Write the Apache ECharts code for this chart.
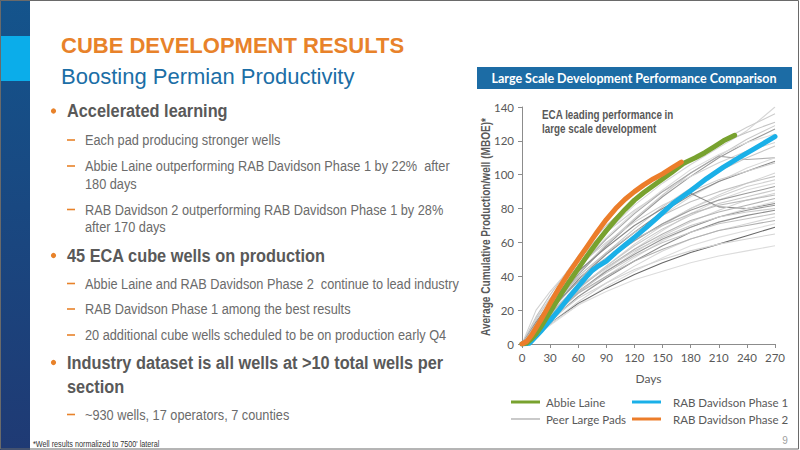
<!DOCTYPE html>
<html><head><meta charset="utf-8">
<script src="https://cdn.jsdelivr.net/npm/echarts@6/dist/echarts.min.js"></script>
<style>html,body{margin:0;padding:0;background:#fff}#c{width:800px;height:450px}</style>
</head><body><div id="c"></div>
<script>
// ---------- data ----------
const peerDays = [0, 15, 30, 60, 90, 120, 150, 180, 210, 240, 270];
const peerLargePads = [
  [0,12,24,46,66,82,95,106,116,126,140],
  [0,14,27,50,68,84,97,108,119,128,136],
  [0,16,29,52,70,85,98,109,118,125,131],
  [0,11,22,42,59,74,88,101,111,121,129],
  [0,10,21,41,58,73,87,99,110,119,127],
  [0,13,25,46,63,78,91,103,112,119,124],
  [0,20,31,50,66,79,90,99,107,114,119],
  [0,9,19,38,54,68,81,92,102,110,117],
  [0,12,24,45,62,77,90,101,111,109,110],
  [0,8,17,35,50,64,76,87,96,104,110],
  [0,10,20,38,53,66,78,88,96,102,108],
  [0,15,27,46,60,72,82,90,97,102,107],
  [0,7,16,32,46,59,70,80,88,95,101],
  [0,11,22,40,54,66,76,84,90,95,99],
  [0,9,18,35,49,61,71,80,87,93,97],
  [0,6,14,30,44,56,67,77,85,91,95],
  [0,10,20,37,50,61,71,79,85,89,93],
  [0,8,17,33,46,58,68,76,83,87,91],
  [0,13,24,43,57,70,80,89,81,80,83],
  [0,7,15,30,43,54,64,72,79,85,89],
  [0,12,22,39,51,62,70,77,82,85,88],
  [0,9,18,33,45,56,65,73,78,82,86],
  [0,6,13,28,40,51,61,69,75,80,84],
  [0,8,16,31,43,53,62,69,75,79,82],
  [0,10,19,34,45,55,63,70,75,78,80],
  [0,7,14,28,39,49,58,66,72,76,79],
  [0,9,17,31,42,52,60,66,71,74,77],
  [0,6,12,25,36,46,55,62,67,71,75],
  [0,8,16,30,40,49,56,62,67,70,73],
  [0,5,11,23,34,43,51,58,63,67,71],
  [0,6,12,24,33,41,48,54,59,64,69],
  [0,7,14,27,36,44,50,55,59,62,65],
  [0,6,12,23,31,38,43,48,52,55,58]
];
const abbieDays   = [0, 5, 10, 15, 20, 25, 30, 40, 50, 60, 70, 80, 90, 100, 110, 120, 130, 140, 150, 160, 172, 185, 195, 205, 215, 227];
const abbieValues = [0, 0.5, 3, 6, 10, 14.5, 19, 28, 36.5, 44.5, 52.5, 60, 67, 73.5, 79.5, 85, 89.5, 93.5, 97.5, 101.5, 106.6, 110, 113, 116.5, 120, 123.3];
const rab2Days    = [0, 5, 10, 15, 20, 25, 30, 40, 50, 60, 70, 80, 90, 100, 110, 120, 130, 140, 150, 160, 170];
const rab2Values  = [0, 1.5, 5, 9.5, 14, 19, 24, 33.5, 42, 50, 58, 66, 73.5, 80, 85.5, 90, 94, 97.5, 100.5, 104, 107.5];
const rab1Days    = [0, 8, 15, 20, 30, 40, 50, 60, 70, 75, 80, 90, 100, 110, 120, 133, 145, 161, 180, 197, 215, 233, 250, 270];
const rab1Values  = [0, 0.5, 4.5, 7.5, 14, 20.5, 27.5, 34, 40.5, 43.5, 45.5, 49, 54, 58.5, 63, 69, 75, 83, 90.5, 97.7, 104.5, 110.5, 116, 122.5];
const xTicks = [0, 30, 60, 90, 120, 150, 180, 210, 240, 270];
const yTicks = [0, 20, 40, 60, 80, 100, 120, 140];

// ---------- styles ----------
const peerShades = ['#d6d6d6','#cdcdcd','#c4c4c4','#cacaca','#9a9a9a','#dcdcdc','#d2d2d2','#c8c8c8','#a8a8a8','#d8d8d8',
  '#8c8c8c','#cecece','#d4d4d4','#c2c2c2','#d0d0d0','#dadada','#9c9c9c','#c9c9c9','#8a8a8a','#d3d3d3',
  '#bdbdbd','#b4b4b4','#dbdbdb','#969696','#cbcbcb','#8f8f8f','#c5c5c5','#d5d5d5','#b0b0b0','#dddddd',
  '#686868','#d4d4d4','#dcdcdc'];
const GRAY = '#595959';
const NARROW = '"Liberation Sans", Arial, sans-serif';

function txt(x, y, text, font, fill, sx, align) {
  return { type: 'text', x: x, y: y, scaleX: sx || 1, silent: true, z: 10,
    style: { text: text, font: font, fill: fill, align: align || 'left', verticalAlign: 'middle',
             textAlign: align || 'left', textVerticalAlign: 'middle' } };
}

const graphics = [];
graphics.push({ type: 'rect', shape: { x: 0, y: 0, width: 30, height: 450 }, silent: true,
  style: { fill: new echarts.graphic.LinearGradient(0, 0, 0, 1, [{offset:0,color:'#14548c'},{offset:1,color:'#1f3a74'}]) } });
graphics.push({ type: 'rect', shape: { x: 0, y: 36, width: 30, height: 45 }, silent: true, style: { fill: '#0badea' } });
graphics.push({ type: 'rect', shape: { x: 0.5, y: 0.5, width: 798, height: 448.5 }, silent: true, z: 20,
  style: { fill: null, stroke: '#6a6a6a', lineWidth: 1 } });
graphics.push(txt(61, 45, 'CUBE DEVELOPMENT RESULTS', 'bold 22px "Liberation Sans", Arial, sans-serif', '#e8822a'));
graphics.push(txt(61, 76, 'Boosting Permian Productivity', '22px "Liberation Sans", Arial, sans-serif', '#1b6ea6'));
const heads = [[111, 'Accelerated learning'], [255.5, '45 ECA cube wells on production'],
  [362.5, 'Industry dataset is all wells at >10 total wells per'], [386.5, 'section']];
heads.forEach(h => graphics.push(txt(67, h[0], h[1], 'bold 19px ' + NARROW, GRAY, 0.86)));
[111, 255.5, 362.5].forEach(y => graphics.push({ type: 'circle', shape: { cx: 53.5, cy: y, r: 2.6 }, silent: true, style: { fill: '#e8822a' } }));
const subs = [[140, 'Each pad producing stronger wells', true], [166, 'Abbie Laine outperforming RAB Davidson Phase 1 by 22%  after', true],
  [183.5, '180 days', false], [209.5, 'RAB Davidson 2 outperforming RAB Davidson Phase 1 by 28%', true], [227, 'after 170 days', false],
  [283.5, 'Abbie Laine and RAB Davidson Phase 2  continue to lead industry', true], [309, 'RAB Davidson Phase 1 among the best results', true],
  [335, '20 additional cube wells scheduled to be on production early Q4', true], [414.5, '~930 wells, 17 operators, 7 counties', true]];
subs.forEach(s => {
  graphics.push(txt(85, s[0], s[1], '15px ' + NARROW, '#6b6b6b', 0.85));
  if (s[2]) graphics.push({ type: 'rect', shape: { x: 67, y: s[0] - 0.8, width: 8, height: 1.6 }, silent: true, style: { fill: '#e8822a' } });
});
graphics.push(txt(33, 444, "*Well results normalized to 7500' lateral", '8.5px ' + NARROW, '#333333', 0.85));
graphics.push(txt(785, 440, '9', '10px "Liberation Sans", Arial, sans-serif', '#a0a0a0', 1, 'center'));
graphics.push({ type: 'rect', shape: { x: 477, y: 67, width: 315, height: 22 }, silent: true, style: { fill: '#1c6ca5' } });
graphics.push(txt(634, 78, 'Large Scale Development Performance Comparison', 'bold 12.5px Lato, sans-serif', '#ffffff', 1, 'center'));
graphics.push(txt(542, 115, 'ECA leading performance in', 'bold 12px ' + NARROW, GRAY, 0.82));
graphics.push(txt(542, 129, 'large scale development', 'bold 12px ' + NARROW, GRAY, 0.82));
graphics.push({ type: 'text', x: 486, y: 227, rotation: Math.PI / 2, scaleX: 0.84, silent: true, z: 10,
  style: { text: 'Average Cumulative Production/well (MBOE)*', font: 'bold 12px ' + NARROW, fill: GRAY,
           align: 'center', verticalAlign: 'middle', textAlign: 'center', textVerticalAlign: 'middle' } });

// ---------- series ----------
const zip = (xs, ys) => xs.map((x, i) => [x, ys[i]]);
const series = peerLargePads.map((vals, i) => ({
  type: 'line', name: 'Peer Large Pads', data: zip(peerDays, vals), symbol: 'none', silent: true,
  smooth: false, z: 2, lineStyle: { width: 1.1, color: peerShades[i] }, itemStyle: { color: '#a6a6a6' }
}));
series.push({ type: 'line', name: 'RAB Davidson Phase 1', data: zip(rab1Days, rab1Values), symbol: 'none', smooth: false, z: 3,
  lineStyle: { width: 5, color: '#1ab0e8', cap: 'round', join: 'round' }, itemStyle: { color: '#1ab0e8' } });
series.push({ type: 'line', name: 'Abbie Laine', data: zip(abbieDays, abbieValues), symbol: 'none', smooth: false, z: 4,
  lineStyle: { width: 5, color: '#78a22f', cap: 'round', join: 'round' }, itemStyle: { color: '#78a22f' } });
series.push({ type: 'line', name: 'RAB Davidson Phase 2', data: zip(rab2Days, rab2Values), symbol: 'none', smooth: false, z: 5,
  lineStyle: { width: 5, color: '#ec7d2a', cap: 'round', join: 'round' }, itemStyle: { color: '#ec7d2a' } });

const legendText = { color: GRAY, fontFamily: 'Lato, sans-serif', fontSize: 11.5 };
function leg(left, top, name, h, padLeft) {
  return { left: left, top: top, orient: 'vertical', icon: 'rect', itemWidth: 29, itemHeight: h, selectedMode: false, padding: 0,
    textStyle: Object.assign({ padding: [0, 0, 0, padLeft] }, legendText), data: [name] };
}
const chart = echarts.init(document.getElementById('c'), null, { renderer: 'svg' });
chart.setOption({
  animation: false,
  backgroundColor: '#ffffff',
  grid: { left: 522, right: 25, top: 107, bottom: 106, containLabel: false },
  xAxis: { type: 'value', min: xTicks[0], max: xTicks[xTicks.length - 1], interval: xTicks[1] - xTicks[0],
    name: 'Days', nameLocation: 'middle', nameGap: 28, nameTextStyle: { color: GRAY, fontFamily: 'Lato, sans-serif', fontSize: 12 },
    axisLine: { lineStyle: { color: '#8c8c8c', width: 1 } }, axisTick: { show: true, length: 4, lineStyle: { color: '#8c8c8c' } },
    splitLine: { show: false }, axisLabel: { color: GRAY, fontFamily: 'Lato, sans-serif', fontSize: 11.5, margin: 7 } },
  yAxis: { type: 'value', min: yTicks[0], max: yTicks[yTicks.length - 1], interval: yTicks[1] - yTicks[0],
    axisLine: { show: true, lineStyle: { color: '#8c8c8c', width: 1 } }, axisTick: { show: true, length: 4, lineStyle: { color: '#8c8c8c' } },
    splitLine: { show: false }, axisLabel: { color: GRAY, fontFamily: 'Lato, sans-serif', fontSize: 11.5, margin: 8 } },
  legend: [
    leg(511, 396, 'Abbie Laine', 3, 1),
    leg(511, 413, 'Peer Large Pads', 1.2, 1),
    leg(632, 396, 'RAB Davidson Phase 1', 3, 7),
    leg(632, 413, 'RAB Davidson Phase 2', 3, 7)
  ],
  graphic: { elements: graphics },
  series: series
});
</script></body></html>
